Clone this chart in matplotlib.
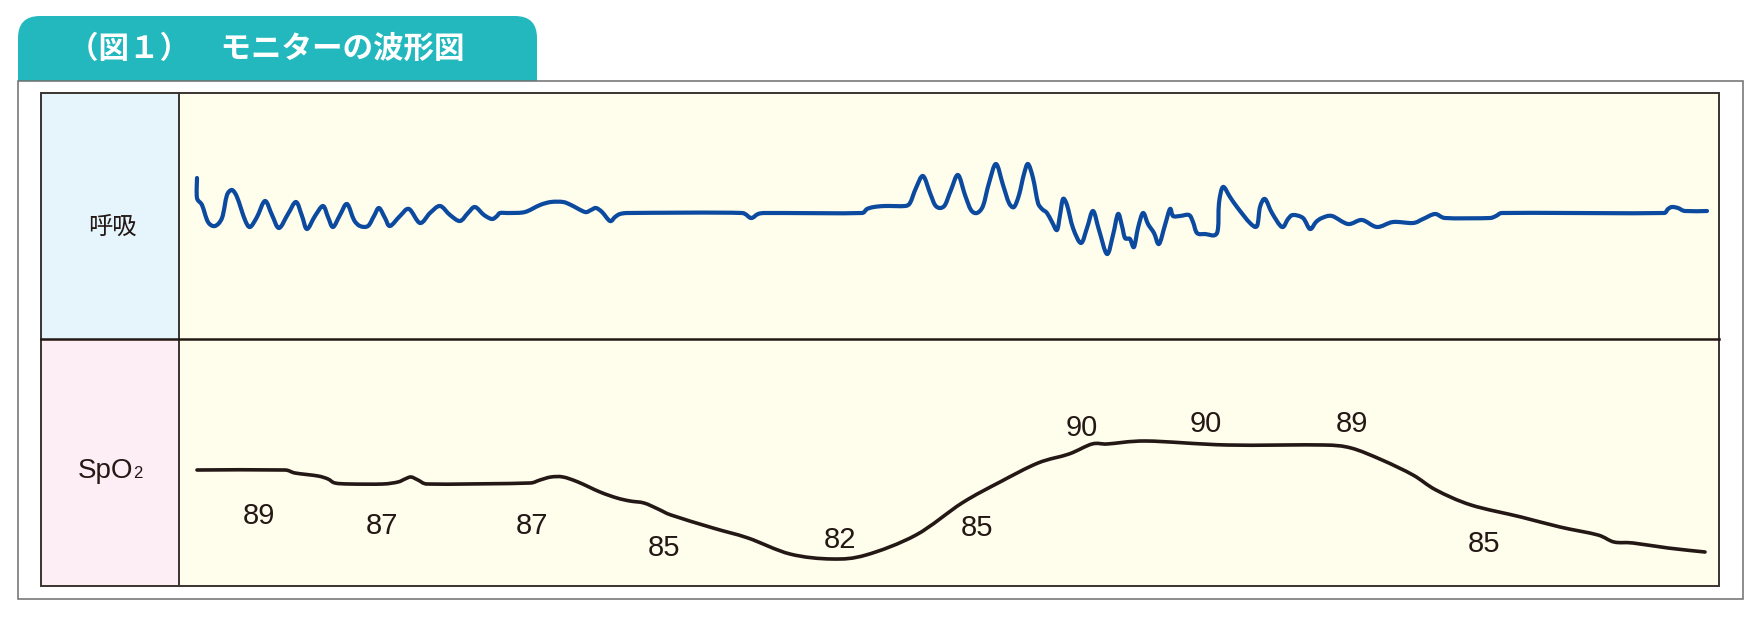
import numpy as np
import matplotlib
matplotlib.use("Agg")
import matplotlib.pyplot as plt
from matplotlib.path import Path
from matplotlib.patches import PathPatch, Rectangle, FancyBboxPatch

# ---------------------------------------------------------------------------------------
# Dados (x = tempo em px, nível = px acima da linha de base)
# ---------------------------------------------------------------------------------------

titulo = "（図１）　モニターの波形図"
rotulo_resp = "呼吸"
rotulo_spo2 = "SpO"

resp_t = [197, 197, 202, 208, 215, 222, 227, 232, 237, 245, 250, 257, 265, 272, 279,
          288, 296, 302, 307, 315, 323, 328, 333, 340, 347, 354, 360, 368, 374, 379,
          385, 390, 400, 409, 420, 430, 440, 450, 460, 468, 475, 484, 492, 497, 500,
          510, 525, 540, 551, 563, 571, 585, 591, 596, 602, 610, 615, 620, 628, 742,
          751, 758, 765, 862, 867, 874, 885, 905, 910, 916, 923, 930, 935, 940, 945,
          951, 958, 965, 971, 977, 983, 989, 996, 1003, 1009, 1014, 1019, 1024, 1028,
          1033, 1038, 1042, 1047, 1052, 1057, 1060, 1063, 1067, 1073, 1081, 1087, 1093,
          1099, 1107, 1113, 1118, 1122, 1125, 1130, 1134, 1138, 1143, 1148, 1154, 1159,
          1165, 1170, 1173, 1180, 1189, 1193, 1197, 1205, 1217, 1219, 1223, 1230, 1237,
          1250, 1257, 1260, 1265, 1272, 1282, 1288, 1293, 1303, 1310, 1316, 1322, 1332,
          1348, 1362, 1377, 1393, 1413, 1423, 1435, 1445, 1490, 1496, 1502, 1664, 1668,
          1672, 1678, 1685, 1707]
resp_v = [35, 15, 8, -9, -13, -5, 18, 23, 16, -7, -14, -4, 12, -2, -15,
          -1, 11, -3, -16, -3, 7, -4, -14, -2, 9, -7, -13, -13, -3, 5,
          -5, -13, -3, 4, -10, 0, 7, -2, -8, 0, 6, -2, -6, -3, 0,
          0, 1, 8, 11, 11, 8, 1, 3, 5, 1, -8, -4, -1, 0, 0,
          -5, -1, 0, 0, 4, 6, 7, 7, 10, 25, 37, 20, 8, 5, 8,
          23, 38, 18, 3, 0, 7, 30, 49, 28, 10, 6, 18, 39, 49,
          35, 10, 4, 0, -9, -17, -2, 14, 8, -15, -30, -15, 2,
          -17, -41, -22, -1, -13, -25, -26, -34, -15, 0, -11, -20, -31,
          -12, 4, -3, -3, -2, -9, -20, -21, -20, 10, 26, 16, 6,
          -10, -13, 6, 14, 0, -14, -6, -2, -5, -16, -9, -5, -3,
          -11, -7, -14, -9, -10, -6, -1, -5, -5, -3, 0, 0, 4,
          6, 5, 2, 2]

spo2_t = [197, 285, 295, 318, 328, 335, 350, 383, 398, 405, 411, 418, 427, 530, 540,
          551, 563, 578, 600, 617, 630, 644, 658, 671, 713, 748, 790, 832, 866, 916,
          962, 1000, 1038, 1069, 1092, 1107, 1146, 1227, 1324, 1351, 1382, 1413, 1436,
          1471, 1521, 1560, 1598, 1614, 1633, 1668, 1705]
spo2_v = [116, 116, 113, 110, 107, 103, 102, 102, 104, 107, 109, 106, 102, 103, 106,
          109, 109, 104, 94, 88, 85, 83, 77, 71, 58, 48, 32, 27, 31, 51,
          83, 104, 123, 132, 142, 142, 145, 141, 141, 138, 126, 111, 96,
          81, 69, 59, 51, 44, 43, 38, 34]

leituras = [89, 87, 87, 85, 82, 85, 90, 90, 89, 85]
leituras_t = [259, 382, 532, 664, 840, 977, 1082, 1206, 1352, 1484]
leituras_nivel = [73, 62, 62, 40, 48, 61, 161, 165, 165, 44]

# cores
cor_aba = "#22B8BD"
cor_resp = "#0B4A9E"
cor_spo2 = "#231815"
cor_borda = "#3a3330"


def curvaSuave(x, y):
    """
    Monta um Path de Bezier (Catmull-Rom) que passa
    pelos pontos lidos; os braços de controle são
    limitados ao tamanho do trecho para não fazer laços
    """
    pts = np.column_stack([x, y]).astype(float)
    p = np.vstack([pts[0], pts, pts[-1]])
    verts = [pts[0]]
    codes = [Path.MOVETO]

    def limita(v, lim):
        n = np.hypot(*v)
        if n > lim:
            v = v * lim / n
        return v

    for i in range(1, len(p) - 2):
        p0, p1, p2, p3 = p[i - 1], p[i], p[i + 1], p[i + 2]
        h = np.hypot(*(p2 - p1))
        a1 = limita((p2 - p0) / 6.0, 0.45 * h)
        a2 = limita((p3 - p1) / 6.0, 0.45 * h)
        verts += [p1 + a1, p2 - a2, p2]
        codes += [Path.CURVE4] * 3
    return Path(verts, codes)


W, H = 1756, 631
fig = plt.figure(figsize=(W / 100, H / 100), dpi=100)

# fundo / moldura em coordenadas de pixel
bg = fig.add_axes([0, 0, 1, 1])
bg.set_xlim(0, W)
bg.set_ylim(H, 0)
bg.axis('off')

bg.add_patch(FancyBboxPatch((18, 16), 519, 90, boxstyle="round,pad=0,rounding_size=22",
                            fc=cor_aba, ec='none', zorder=1))
bg.add_patch(Rectangle((18, 81), 1725, 518, fc='white', ec='#6e6e6e', lw=1.1, zorder=2))
bg.add_patch(Rectangle((41, 93), 138, 246, fc='#E6F5FC', ec='none', zorder=3))
bg.add_patch(Rectangle((41, 339), 138, 247, fc='#FDEEF5', ec='none', zorder=3))
bg.add_patch(Rectangle((179, 93), 1540, 493, fc='#FFFDEB', ec='none', zorder=3))
bg.add_patch(Rectangle((41, 93), 1678, 493, fill=False, ec=cor_borda, lw=1.4, zorder=4))
bg.plot([179, 179], [93, 586], color=cor_borda, lw=1.4, zorder=4)
bg.plot([41, 1719], [339, 339], color=cor_spo2, lw=1.8, zorder=4)

bg.text(68, 49, titulo, color='white', fontsize=22, fontweight='bold',
        family=['Noto Sans CJK JP', 'DejaVu Sans'], ha='left', va='center', zorder=5)
bg.text(112, 227, rotulo_resp, color=cor_spo2, fontsize=17.5,
        family=['Noto Sans CJK JP', 'DejaVu Sans'], ha='center', va='center', zorder=5)
bg.text(133, 478, rotulo_spo2, color=cor_spo2, fontsize=20,
        family='Liberation Sans', ha='right', va='baseline', zorder=5)
bg.text(133, 478, "2", color=cor_spo2, fontsize=12,
        family='Liberation Sans', ha='left', va='baseline', zorder=5)

# painel respiração
ax1 = fig.add_axes([179 / W, (H - 339) / H, 1540 / W, 246 / H])
ax1.set_xlim(179, 1719)
ax1.set_ylim(-126, 120)
ax1.axis('off')
ax1.patch.set_alpha(0)
ax1.add_patch(PathPatch(curvaSuave(resp_t, resp_v), fill=False, ec=cor_resp, lw=3.0,
                        capstyle='round', joinstyle='round'))

# painel SpO2
ax2 = fig.add_axes([179 / W, (H - 586) / H, 1540 / W, 247 / H])
ax2.set_xlim(179, 1719)
ax2.set_ylim(0, 247)
ax2.axis('off')
ax2.patch.set_alpha(0)
ax2.add_patch(PathPatch(curvaSuave(spo2_t, spo2_v), fill=False, ec=cor_spo2, lw=2.6,
                        capstyle='round', joinstyle='round'))
for v, t, n in zip(leituras, leituras_t, leituras_nivel):
    ax2.text(t, n - 10.5, str(v), color=cor_spo2, fontsize=21, family='Liberation Sans',
             ha='center', va='baseline')

fig.savefig('out.png', dpi=100)
